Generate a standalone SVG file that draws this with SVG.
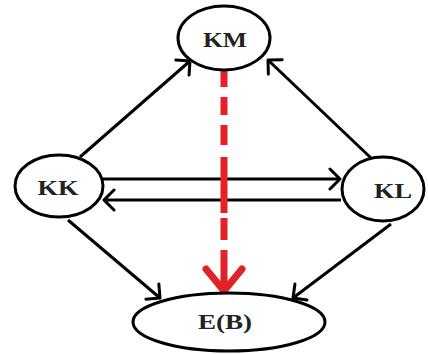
<svg xmlns="http://www.w3.org/2000/svg" width="428" height="354" viewBox="0 0 428 354">
<style>
.node ellipse{fill:#fff;stroke:#000;stroke-width:3}
.node text{font-family:"Liberation Serif","Times New Roman",serif;font-weight:bold;font-size:22px;fill:#222;text-anchor:middle}
.edge{stroke:#000;stroke-width:3;fill:none;marker-end:url(#ah)}
.red{stroke:#e32227;stroke-width:7;fill:none;marker-end:url(#rh)}
</style>
<defs>
<marker id="ah" markerUnits="userSpaceOnUse" viewBox="-14 -12 16 24" markerWidth="16" markerHeight="24" refX="0" refY="0" orient="auto">
<path d="M-10,-10 L0,0 L-10,10" fill="none" stroke="#000" stroke-width="3" stroke-linejoin="round" stroke-linecap="round"/>
</marker>
<marker id="rh" markerUnits="userSpaceOnUse" viewBox="-30 -26 34 52" markerWidth="34" markerHeight="52" refX="0" refY="0" orient="auto">
<path d="M-22,-18 L0,0 L-22,18" fill="none" stroke="#e32227" stroke-width="7" stroke-linejoin="round" stroke-linecap="round"/>
</marker>
</defs>
<rect width="428" height="354" fill="#fff"/>
<g id="connectors">
<line class="edge" x1="80" y1="157" x2="190" y2="61"/>
<line class="edge" x1="371" y1="158" x2="268" y2="60"/>
<line class="edge" x1="103" y1="179" x2="340" y2="179"/>
<line class="edge" x1="341" y1="200" x2="104" y2="200"/>
<line class="edge" x1="68" y1="220" x2="160" y2="298"/>
<line class="edge" x1="391" y1="224" x2="293" y2="298"/>
<line class="red" x1="224" y1="68" x2="224" y2="291" stroke-dasharray="19 10 18 10 20 12 56 5 22 10 100"/>
</g>
<g id="KM" class="node">
<ellipse cx="224" cy="38" rx="46" ry="32"/>
<text x="225" y="47" textLength="44" lengthAdjust="spacingAndGlyphs">KM</text>
</g>
<g id="KK" class="node">
<ellipse cx="59" cy="186" rx="44" ry="31"/>
<text x="58" y="195" textLength="41" lengthAdjust="spacingAndGlyphs">KK</text>
</g>
<g id="KL" class="node">
<ellipse cx="383" cy="189" rx="41" ry="32"/>
<text x="393" y="198" textLength="38" lengthAdjust="spacingAndGlyphs">KL</text>
</g>
<g id="EB" class="node">
<ellipse cx="229" cy="322" rx="96" ry="29"/>
<text x="225" y="329" textLength="54" lengthAdjust="spacingAndGlyphs">E(B)</text>
</g>
</svg>
